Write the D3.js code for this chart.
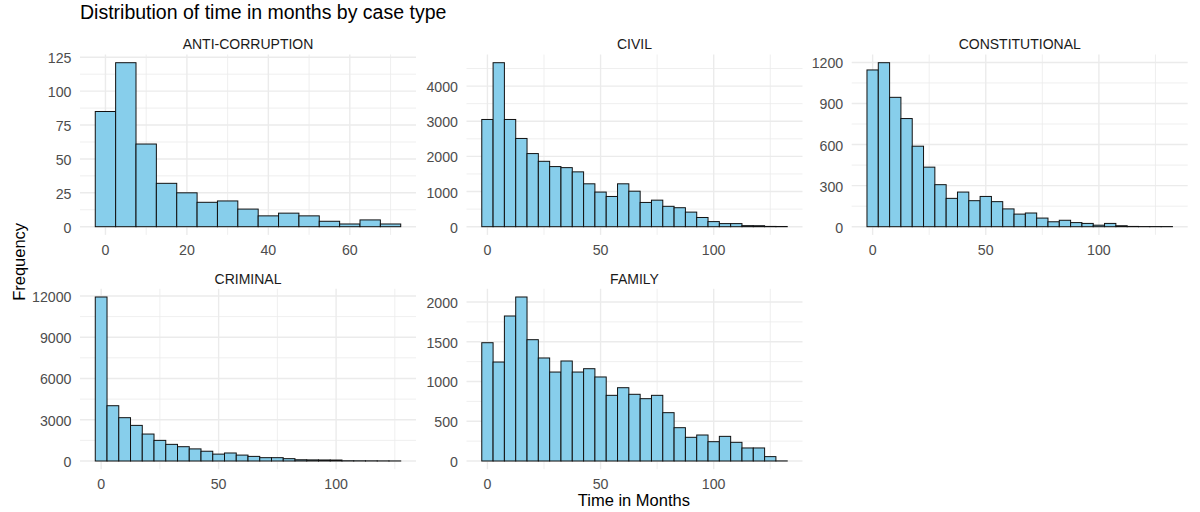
<!DOCTYPE html>
<html>
<head>
<meta charset="utf-8">
<script src="https://cdn.jsdelivr.net/npm/d3@7"></script>
<style>
  html, body { margin: 0; padding: 0; background: #ffffff; }
  svg { display: block; font-family: "Liberation Sans", Arial, Helvetica, sans-serif; }
</style>
</head>
<body>
<svg id="chart" width="1200" height="512"></svg>
<script>
// ---------------- data ----------------
const chartTitle = "Distribution of time in months by case type";
const xTitle = "Time in Months";
const yTitle = "Frequency";
const binWidth = 5;

const categories = ["ANTI-CORRUPTION", "CIVIL", "CONSTITUTIONAL", "CRIMINAL", "FAMILY"];

const binsAnti = [0, 5, 10, 15, 20, 25, 30, 35, 40, 45, 50, 55, 60, 65, 70];
const bins26 = [0, 5, 10, 15, 20, 25, 30, 35, 40, 45, 50, 55, 60, 65, 70, 75, 80, 85, 90, 95, 100, 105, 110, 115, 120, 125];
const bins27 = [0, 5, 10, 15, 20, 25, 30, 35, 40, 45, 50, 55, 60, 65, 70, 75, 80, 85, 90, 95, 100, 105, 110, 115, 120, 125, 130];

const countsAnti = [85, 121, 61, 32, 25, 18, 19, 13, 8, 10, 8, 4, 2, 5, 2];
const countsCivil = [3050, 4665, 3050, 2510, 2080, 1860, 1710, 1680, 1560, 1220, 985, 860, 1220, 1010, 690, 755, 580, 540, 415, 262, 145, 88, 88, 30, 28, 8, 6];
const countsConstitutional = [1145, 1198, 945, 790, 588, 435, 307, 207, 253, 190, 221, 183, 130, 92, 100, 63, 36, 47, 30, 24, 11, 24, 7, 2, 1, 1, 1];
const countsCriminal = [11925, 4020, 3150, 2590, 1960, 1500, 1210, 1040, 880, 710, 500, 582, 430, 335, 242, 242, 170, 90, 80, 75, 70, 18, 15, 12, 8, 5];
const countsFamily = [1488, 1245, 1824, 2063, 1526, 1296, 1119, 1258, 1119, 1161, 1057, 826, 922, 839, 784, 826, 608, 419, 298, 327, 243, 310, 235, 164, 164, 55, 1];

const yTicksAnti = [0, 25, 50, 75, 100, 125];
const yTicksCivil = [0, 1000, 2000, 3000, 4000];
const yTicksConstitutional = [0, 300, 600, 900, 1200];
const yTicksCriminal = [0, 3000, 6000, 9000, 12000];
const yTicksFamily = [0, 500, 1000, 1500, 2000];

const xTicksAnti = [0, 20, 40, 60];
const xTicksLong = [0, 50, 100];

const panelsData = [
  { name: categories[0], bins: binsAnti, counts: countsAnti, yTicks: yTicksAnti, xTicks: xTicksAnti },
  { name: categories[1], bins: bins27, counts: countsCivil, yTicks: yTicksCivil, xTicks: xTicksLong },
  { name: categories[2], bins: bins27, counts: countsConstitutional, yTicks: yTicksConstitutional, xTicks: xTicksLong },
  { name: categories[3], bins: bins26, counts: countsCriminal, yTicks: yTicksCriminal, xTicks: xTicksLong },
  { name: categories[4], bins: bins27, counts: countsFamily, yTicks: yTicksFamily, xTicks: xTicksLong }
];

// ---------------- layout ----------------
const colLeft = [80, 466.5, 851.7];
const rowTop = [54.5, 288.8];
const panelW = 336;
const panelH = 180.4;

const gridColor = "#ebebeb";
const tickColor = "#4d4d4d";

const svg = d3.select("#chart");

svg.append("text")
  .attr("x", 80)
  .attr("y", 18.5)
  .attr("font-size", 19.5)
  .attr("fill", "#000")
  .text(chartTitle);

function minorTicks(major, domain) {
  const step = major[1] - major[0];
  const out = [];
  const lo = Math.min(...domain), hi = Math.max(...domain);
  for (let v = major[0] - step / 2; v <= major[major.length - 1] + step / 2 + 1e-9; v += step) {
    if (v >= lo && v <= hi) out.push(v);
  }
  return out;
}

panelsData.forEach((p, i) => {
  const col = i % 3, row = Math.floor(i / 3);
  const left = colLeft[col], top = rowTop[row];
  const g = svg.append("g").attr("transform", `translate(${left},${top})`);

  const xmin = p.bins[0] - binWidth / 2;
  const xmax = p.bins[p.bins.length - 1] + binWidth / 2;
  const xpad = (xmax - xmin) * 0.05;
  const x = d3.scaleLinear().domain([xmin - xpad, xmax + xpad]).range([0, panelW]);

  const ymax = d3.max(p.counts);
  const y = d3.scaleLinear().domain([-ymax * 0.05, ymax * 1.05]).range([panelH, 0]);

  // minor grid
  const xMinor = minorTicks(p.xTicks, x.domain());
  const yMinor = minorTicks(p.yTicks, y.domain());
  g.append("g").selectAll("line").data(xMinor).join("line")
    .attr("x1", d => x(d)).attr("x2", d => x(d)).attr("y1", 0).attr("y2", panelH)
    .attr("stroke", gridColor).attr("stroke-width", 0.8);
  g.append("g").selectAll("line").data(yMinor).join("line")
    .attr("y1", d => y(d)).attr("y2", d => y(d)).attr("x1", 0).attr("x2", panelW)
    .attr("stroke", gridColor).attr("stroke-width", 0.8);
  // major grid
  g.append("g").selectAll("line").data(p.xTicks).join("line")
    .attr("x1", d => x(d)).attr("x2", d => x(d)).attr("y1", 0).attr("y2", panelH)
    .attr("stroke", gridColor).attr("stroke-width", 1.4);
  g.append("g").selectAll("line").data(p.yTicks).join("line")
    .attr("y1", d => y(d)).attr("y2", d => y(d)).attr("x1", 0).attr("x2", panelW)
    .attr("stroke", gridColor).attr("stroke-width", 1.4);

  // bars
  g.append("g").selectAll("rect").data(p.bins.map((b, k) => ({ b, c: p.counts[k] }))).join("rect")
    .attr("x", d => x(d.b - binWidth / 2))
    .attr("width", d => x(d.b + binWidth / 2) - x(d.b - binWidth / 2))
    .attr("y", d => y(d.c))
    .attr("height", d => y(0) - y(d.c))
    .attr("fill", "#87ceeb")
    .attr("stroke", "#111")
    .attr("stroke-width", 1);

  // y tick labels
  g.append("g").selectAll("text").data(p.yTicks).join("text")
    .attr("x", -8.5).attr("y", d => y(d)).attr("dy", "0.42em")
    .attr("text-anchor", "end").attr("font-size", 14.2).attr("fill", tickColor)
    .text(d => d);

  // x tick labels
  g.append("g").selectAll("text").data(p.xTicks).join("text")
    .attr("x", d => x(d)).attr("y", panelH + 20)
    .attr("text-anchor", "middle").attr("font-size", 14.2).attr("fill", tickColor)
    .text(d => d);

  // strip
  g.append("text")
    .attr("x", panelW / 2).attr("y", -5.3)
    .attr("text-anchor", "middle").attr("font-size", 14).attr("fill", "#1a1a1a")
    .text(p.name);
});

// axis titles
svg.append("text")
  .attr("x", (colLeft[0] + colLeft[2] + panelW) / 2)
  .attr("y", 506)
  .attr("text-anchor", "middle").attr("font-size", 16.5).attr("fill", "#000")
  .text(xTitle);

svg.append("text")
  .attr("transform", `translate(25,${(rowTop[0] + rowTop[1] + panelH) / 2}) rotate(-90)`)
  .attr("text-anchor", "middle").attr("font-size", 16.5).attr("fill", "#000")
  .text(yTitle);
</script>
</body>
</html>
